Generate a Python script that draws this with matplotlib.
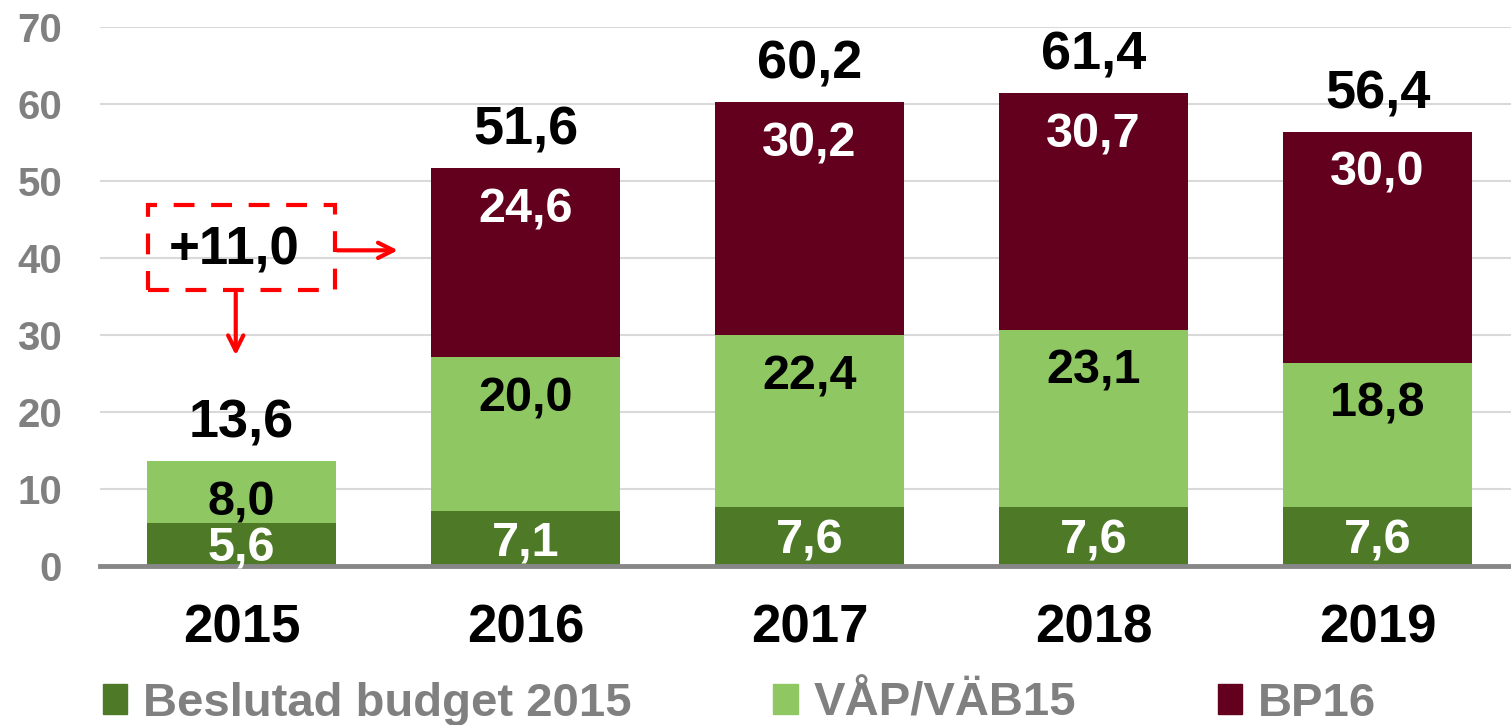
import matplotlib.pyplot as plt
from matplotlib.patches import Patch, Rectangle

plt.rcParams['font.family'] = ['Liberation Sans', 'DejaVu Sans']
plt.rcParams['font.weight'] = 'bold'

years = ['2015', '2016', '2017', '2018', '2019']
beslutad = [5.6, 7.1, 7.6, 7.6, 7.6]
vap_vab = [8.0, 20.0, 22.4, 23.1, 18.8]
bp16 = [0.0, 24.6, 30.2, 30.7, 30.0]
totals = [13.6, 51.6, 60.2, 61.4, 56.4]
series_names = ['Beslutad budget 2015', 'VÅP/VÄB15', 'BP16']
extra_text = '+11,0'

c_dark = '#4E7A28'
c_light = '#8FC862'
c_red = '#62001E'

fig = plt.figure(figsize=(15.11, 7.25), dpi=100)
ax = fig.add_axes([0.066, 0.2193, 0.934, 0.7434])

x = list(range(len(years)))
w = 0.666
bottom2 = beslutad
bottom3 = [a + b for a, b in zip(beslutad, vap_vab)]

ax.bar(x, beslutad, w, color=c_dark, zorder=3)
ax.bar(x, vap_vab, w, bottom=bottom2, color=c_light, zorder=3)
ax.bar(x, bp16, w, bottom=bottom3, color=c_red, zorder=3)

lab = dict(fontsize=35, fontweight='bold', ha='center', va='center', zorder=5)
fmt = lambda v: f'{v:.1f}'.replace('.', ',')
for i in x:
    ax.annotate(fmt(beslutad[i]), (i, beslutad[i] / 2), xytext=(0, -3),
                textcoords='offset points', color='white', **lab)
    ax.annotate(fmt(vap_vab[i]), (i, bottom3[i]), xytext=(0, -30),
                textcoords='offset points', color='black', **lab)
    if bp16[i] > 0:
        ax.annotate(fmt(bp16[i]), (i, bottom3[i] + bp16[i]), xytext=(0, -30),
                    textcoords='offset points', color='white', **lab)
    ax.annotate(fmt(totals[i]), (i, bottom3[i] + bp16[i]), xytext=(0, 27),
                textcoords='offset points', color='black',
                **{**lab, 'fontsize': 39})

# dashed box with arrows
ax.add_patch(Rectangle((-0.331, 35.8), 0.658, 11.1, fill=False, ec='#FF0000',
                       lw=3, ls=(0, (5, 4)), zorder=6, clip_on=False))
ax.text(-0.025, 41.0, extra_text, color='black', **{**lab, 'fontsize': 38})
arrow = dict(arrowstyle='->,head_length=1.1,head_width=0.55',
             color='#FF0000', lw=3)
ax.annotate('', xy=(0.56, 41.0), xytext=(0.327, 41.0),
            arrowprops=arrow, zorder=6)
ax.annotate('', xy=(-0.021, 27.0), xytext=(-0.021, 35.8),
            arrowprops=arrow, zorder=6)

ax.set_xlim(-0.5, 4.47)
ax.set_ylim(0, 70)
ax.set_yticks(range(0, 71, 10))
ax.set_xticks(x)
ax.set_xticklabels(years)
ax.yaxis.grid(True, color='#D9D9D9', lw=1.5, zorder=0)
ax.set_axisbelow(True)
for s in ['top', 'right', 'left']:
    ax.spines[s].set_visible(False)
ax.spines['bottom'].set_color('#878787')
ax.spines['bottom'].set_linewidth(3.5)
ax.spines['bottom'].set_zorder(4)
ax.tick_params(axis='y', length=0, pad=27, labelsize=29, labelcolor='#808080')
ax.tick_params(axis='x', length=0, pad=27, labelsize=38, labelcolor='black')
for t in ax.get_yticklabels() + ax.get_xticklabels():
    t.set_fontweight('bold')

handles = [Patch(color=c_dark), Patch(color=c_light), Patch(color=c_red)]
leg = fig.legend(handles, series_names, loc='center left',
                 bbox_to_anchor=(0.068, 0.029), ncol=3, frameon=False,
                 fontsize=34, handlelength=0.52, handleheight=0.6,
                 handletextpad=0.33, columnspacing=3.0, borderpad=0,
                 borderaxespad=0)
for t in leg.get_texts():
    t.set_color('#808080')
    t.set_fontweight('bold')

fig.savefig('out.png', dpi=100)
